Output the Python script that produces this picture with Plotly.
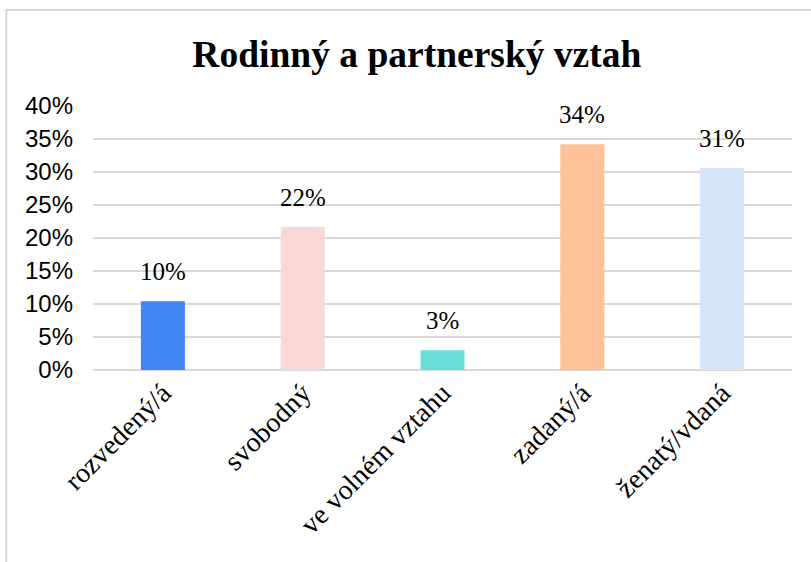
import plotly.graph_objects as go

categories = ["rozvedený/á", "svobodný", "ve volném vztahu", "zadaný/á", "ženatý/vdaná"]
values = [10.4, 21.7, 3.0, 34.2, 30.6]
labels = ["10%", "22%", "3%", "34%", "31%"]
colors = ["#4285F4", "#F9D9D8", "#6ADED6", "#FDC297", "#D7E5FB"]
y_ticks = [0, 5, 10, 15, 20, 25, 30, 35, 40]
y_tick_text = ["0%", "5%", "10%", "15%", "20%", "25%", "30%", "35%", "40%"]

SERIF = "Times New Roman, Liberation Serif, serif"
SANS = "Arial, Liberation Sans, sans-serif"

fig = go.Figure()
fig.add_trace(go.Bar(
    x=categories, y=values, marker=dict(color=colors, line=dict(width=0)),
    width=0.315, hoverinfo="skip",
))
for c, v, t in zip(categories, values, labels):
    fig.add_annotation(x=c, y=v, text=t, showarrow=False, yanchor="bottom",
                       yshift=14, font=dict(family=SERIF, size=25, color="#000000"))

fig.update_layout(
    width=811, height=562,
    margin=dict(l=93, r=19, t=106, b=192),
    paper_bgcolor="white", plot_bgcolor="white",
    showlegend=False,
    title=dict(text="<b>Rodinný a partnerský vztah</b>", x=0.514, xanchor="center",
               y=0.905, yanchor="middle",
               font=dict(family=SERIF, size=37.5, color="#000000")),
    xaxis=dict(tickangle=-45, showgrid=False, showline=False, ticks="",
               tickfont=dict(family=SERIF, size=28, color="#000000")),
    yaxis=dict(range=[0, 40], tickvals=y_ticks, ticktext=y_tick_text,
               showgrid=True, gridcolor="#D9D9D9", gridwidth=1.5,
               zeroline=True, zerolinecolor="#D9D9D9", zerolinewidth=1.5,
               showline=False, ticks="", ticklabelstandoff=19,
               tickfont=dict(family=SANS, size=24, color="#000000")),
    bargap=0.685,
)
fig.add_shape(type="rect", xref="paper", yref="paper",
              x0=-0.124, x1=1.2, y0=-1.0, y1=1.364,
              line=dict(color="#D9D9D9", width=2), fillcolor="rgba(0,0,0,0)", layer="below")
fig.write_html("out.html")
